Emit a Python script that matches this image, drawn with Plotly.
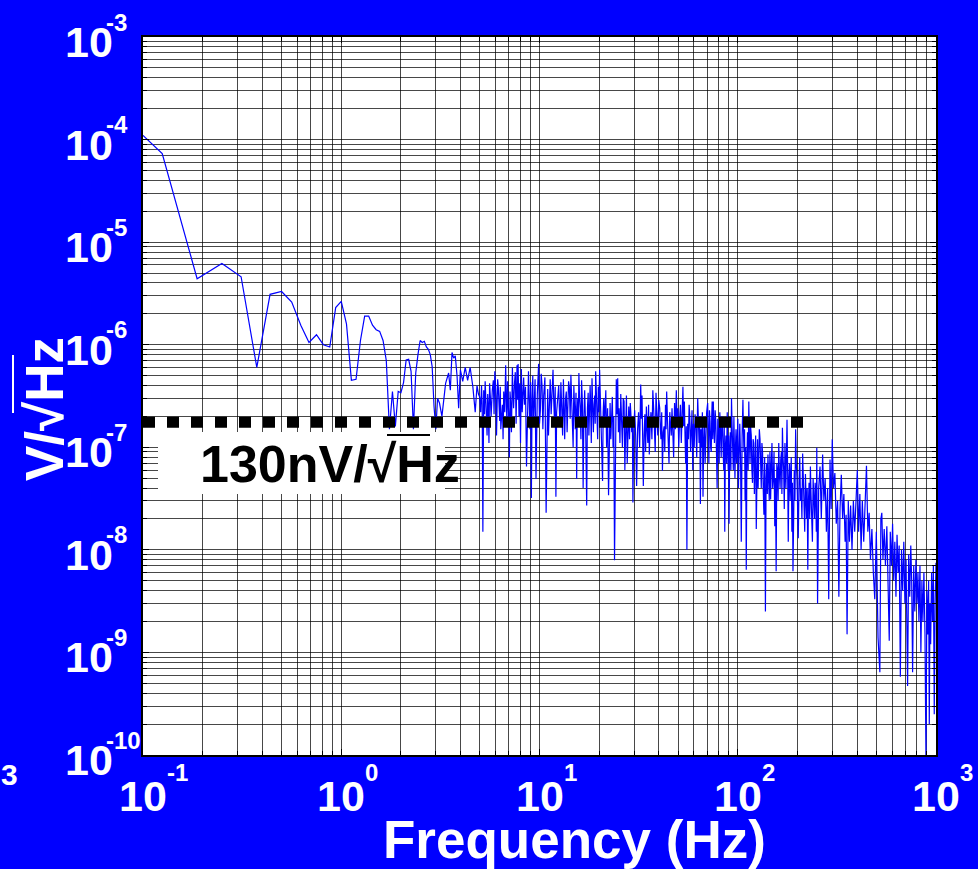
import math
import plotly.graph_objects as go

# ---------------- data ----------------
# (frequency Hz, amplitude V/sqrt(Hz))
seg_low = [(0.1, 1.1e-4), (0.125, 7.3e-5), (0.1875, 4.4e-6), (0.25, 6.2e-6), (0.3125, 4.6e-6),
           (0.375, 6.0e-7), (0.4375, 3.1e-6), (0.5, 3.3e-6), (0.5625, 2.6e-6), (0.625, 1.55e-6),
           (0.6875, 1.05e-6), (0.75, 1.25e-6), (0.8125, 1.0e-6), (0.875, 9.5e-7), (0.9375, 2.3e-6),
           (1.0, 2.65e-6), (1.0625, 1.6e-6), (1.125, 4.5e-7), (1.1875, 4.6e-7), (1.25, 1.1e-6),
           (1.3125, 1.9e-6), (1.375, 1.9e-6), (1.4375, 1.55e-6), (1.5, 1.4e-6), (1.5625, 1.35e-6),
           (1.625, 1.1e-6), (1.6875, 7.0e-7)]

seg_a = [(1.75, 1.5e-7), (1.8125, 3.5e-7), (1.875, 1.6e-7), (1.9375, 3.5e-7), (2.0, 3.4e-7),
         (2.0625, 4.3e-7), (2.125, 7.1e-7), (2.1875, 7.2e-7), (2.25, 5.5e-7), (2.3125, 1.5e-7),
         (2.375, 5.3e-7), (2.4375, 8.0e-7), (2.5, 1.1e-6), (2.5625, 1.05e-6), (2.625, 1.08e-6),
         (2.6875, 9.5e-7), (2.75, 9.0e-7), (2.8125, 8.0e-7), (2.875, 6.1e-7), (2.9375, 2.5e-7),
         (3.0, 1.5e-7), (3.06, 3.0e-7), (3.13, 2.7e-7), (3.22, 2.0e-7), (3.29, 3.2e-7),
         (3.36, 4.2e-7), (3.48, 5.3e-7), (3.55, 3.6e-7), (3.62, 8.4e-7), (3.69, 7.4e-7),
         (3.76, 7.8e-7), (3.84, 4.9e-7), (3.91, 2.4e-7), (3.99, 5.7e-7), (4.1, 4.4e-7),
         (4.22, 6.0e-7), (4.34, 4.5e-7), (4.47, 6.0e-7), (4.61, 3.9e-7), (4.74, 2.2e-7),
         (4.84, 4.0e-7), (4.92, 3.3e-7), (4.99, 3.1e-7)]

seg_b = [(5.05, 2.2e-7), (5.1, 4.0e-7), (5.14, 2.6e-7), (5.18, 1.5e-8), (5.23, 3.6e-7),
         (5.28, 2.1e-7), (5.32, 4.4e-7), (5.36, 3.0e-7), (5.4, 1.9e-7), (5.44, 1.3e-7),
         (5.48, 3.3e-7), (5.52, 2.5e-7), (5.56, 1.1e-7), (5.6, 4.2e-7), (5.65, 3.1e-7),
         (5.7, 2.0e-7), (5.78, 3.6e-7), (5.85, 4.5e-7), (5.9, 2.1e-7), (5.95, 5.5e-7),
         (6.0, 4.1e-7), (6.03, 3.2e-7), (6.07, 1.3e-7), (6.1, 2.5e-7), (6.15, 4.6e-7),
         (6.2, 3.8e-7), (6.25, 2.4e-7), (6.3, 1.8e-7), (6.34, 3.9e-7), (6.38, 1.5e-7),
         (6.44, 2.0e-7), (6.5, 2.6e-7), (6.55, 1.2e-7), (6.6, 3.5e-7), (6.68, 2.2e-7),
         (6.75, 6.3e-7), (6.8, 3.0e-7), (6.85, 1.6e-7), (6.9, 4.4e-7), (6.95, 3.0e-7),
         (7.0, 1.9e-7), (7.05, 8.0e-8), (7.1, 3.5e-7), (7.15, 2.8e-7), (7.22, 1.4e-7),
         (7.3, 6.0e-7), (7.35, 3.3e-7), (7.4, 2.4e-7), (7.48, 4.2e-7), (7.55, 5.4e-7),
         (7.62, 1.7e-7), (7.7, 6.3e-7), (7.75, 2.9e-7), (7.8, 6.5e-7), (7.88, 2.0e-7),
         (7.95, 4.2e-7), (8.02, 1.1e-7), (8.1, 5.8e-7), (8.18, 2.2e-7), (8.25, 3.5e-7),
         (8.32, 4.8e-7), (8.4, 2.6e-7), (8.5, 3.9e-7), (8.6, 6.5e-8), (8.7, 3.1e-7),
         (8.8, 5.5e-7), (8.88, 2.7e-7), (8.95, 1.5e-7), (9.02, 4.3e-7), (9.1, 3.2e-8),
         (9.17, 2.9e-7), (9.25, 5.0e-7), (9.32, 1.6e-7), (9.4, 2.5e-7), (9.5, 4.6e-7),
         (9.6, 4.9e-8), (9.75, 3.3e-7), (9.9, 6.5e-7), (10.0, 1.7e-7), (10.1, 2.3e-7),
         (10.2, 5.2e-7), (10.3, 4.0e-7), (10.4, 1.5e-7), (10.5, 3.2e-7), (10.65, 4.8e-7),
         (10.8, 2.3e-8), (10.9, 2.7e-7), (11.0, 3.7e-7), (11.1, 1.3e-7), (11.2, 3.0e-7),
         (11.32, 4.6e-7), (11.45, 2.1e-7), (11.58, 3.4e-7), (11.7, 5.7e-7), (11.8, 2.8e-7),
         (11.9, 1.8e-7), (12.0, 3.9e-7), (12.1, 3.3e-8), (12.2, 2.2e-7), (12.3, 3.0e-7)]

seg_c = [(12.5, 4.0e-7), (12.6, 2.3e-7), (12.7, 1.6e-7), (12.82, 4.3e-7), (12.95, 2.8e-7),
         (13.08, 1.3e-7), (13.2, 4.6e-7), (13.3, 2.5e-7), (13.4, 1.2e-7), (13.52, 2.9e-7),
         (13.65, 3.5e-7), (13.78, 1.4e-7), (13.9, 2.2e-7), (14.02, 4.4e-7), (14.15, 3.8e-7),
         (14.28, 1.9e-7), (14.4, 5.1e-7), (14.52, 3.0e-7), (14.65, 2.0e-7), (14.78, 1.0e-7),
         (14.9, 4.0e-7), (15.02, 2.6e-7), (15.15, 1.5e-7), (15.28, 3.4e-7), (15.4, 4.9e-8),
         (15.5, 2.2e-7), (15.6, 3.0e-7), (15.7, 1.6e-7), (15.8, 5.3e-7), (15.92, 3.1e-7),
         (16.05, 2.4e-7), (16.18, 1.2e-7), (16.3, 4.5e-7), (16.45, 2.8e-7), (16.6, 4.0e-8),
         (16.75, 2.0e-7), (16.9, 3.6e-7), (17.1, 1.5e-7), (17.3, 2.7e-8), (17.45, 2.4e-7),
         (17.6, 3.4e-7), (17.75, 1.3e-7), (17.9, 2.0e-7), (18.0, 4.0e-7), (18.1, 2.8e-7),
         (18.25, 1.1e-7), (18.4, 4.7e-7), (18.55, 3.0e-7), (18.7, 1.4e-7), (18.85, 2.6e-7),
         (19.0, 3.2e-7), (19.1, 1.7e-7), (19.2, 5.5e-7), (19.35, 3.5e-7), (19.5, 2.3e-7),
         (19.65, 1.2e-7), (19.8, 3.9e-7), (19.95, 2.2e-7), (20.1, 5.7e-7), (20.25, 3.3e-7),
         (20.4, 2.5e-7), (20.6, 1.3e-7), (20.8, 4.7e-8), (20.95, 2.2e-7), (21.1, 3.0e-7),
         (21.25, 1.6e-7), (21.4, 2.6e-7), (21.6, 3.6e-7), (21.8, 1.0e-7), (22.05, 2.4e-7),
         (22.3, 3.4e-8), (22.5, 1.8e-7), (22.7, 2.7e-7), (22.9, 1.2e-7), (23.1, 1.9e-7),
         (23.3, 3.1e-7), (23.5, 1.0e-7), (23.7, 2.0e-7), (23.9, 7.9e-9), (24.15, 2.3e-7),
         (24.4, 4.6e-7), (24.6, 2.1e-7), (24.8, 4.7e-7), (25.0, 1.4e-7), (25.2, 2.4e-7),
         (25.45, 1.1e-7), (25.7, 3.3e-7), (25.95, 1.8e-7), (26.2, 1.0e-7), (26.45, 3.0e-7),
         (26.7, 2.8e-7), (26.95, 6.0e-8), (27.2, 2.2e-7), (27.45, 3.2e-7), (27.7, 7.0e-8),
         (27.95, 1.5e-7), (28.2, 2.5e-7), (28.45, 1.2e-7), (28.7, 2.7e-7), (28.95, 2.0e-7),
         (29.2, 1.4e-7), (29.4, 1.9e-7), (29.6, 2.9e-8), (29.9, 1.6e-7), (30.2, 2.3e-7),
         (30.55, 1.3e-7), (30.9, 4.2e-8), (31.25, 1.5e-7), (31.6, 2.2e-7), (32.0, 1.0e-7),
         (32.4, 4.1e-7), (32.65, 1.9e-7), (32.9, 3.2e-7), (33.15, 1.2e-7), (33.4, 4.2e-8),
         (33.7, 1.3e-7), (34.0, 2.1e-7), (34.3, 9.0e-8), (34.6, 2.5e-7), (34.9, 1.5e-7),
         (35.2, 1.1e-7), (35.5, 2.6e-7), (35.8, 8.5e-8), (36.15, 1.6e-7), (36.5, 2.2e-7),
         (36.9, 1.2e-7), (37.3, 3.6e-7), (37.65, 2.4e-7), (38.0, 1.7e-7), (38.35, 9.0e-8),
         (38.7, 3.4e-7), (39.1, 2.0e-7), (39.5, 1.3e-7), (39.95, 2.9e-7), (40.4, 2.4e-7),
         (40.7, 1.5e-7), (41.0, 1.2e-7), (41.35, 2.2e-7), (41.7, 5.9e-8), (42.1, 1.4e-7),
         (42.5, 1.6e-7), (42.85, 9.0e-8), (43.2, 2.6e-7), (43.5, 1.5e-7), (43.8, 3.5e-7),
         (44.2, 1.9e-7), (44.6, 1.1e-7), (45.0, 7.0e-8), (45.4, 2.2e-7), (45.8, 1.4e-7),
         (46.2, 1.3e-7), (46.6, 2.4e-7), (47.0, 1.6e-7), (47.5, 8.0e-8), (48.0, 2.7e-7),
         (48.5, 1.5e-7), (49.0, 3.6e-7), (49.45, 1.7e-7), (49.9, 2.4e-7), (50.4, 1.0e-7),
         (50.9, 1.9e-7), (51.4, 2.6e-7), (51.9, 1.1e-7), (52.4, 2.1e-7), (52.9, 3.9e-7),
         (53.35, 1.6e-7), (53.8, 2.8e-7), (54.2, 1.3e-7), (54.6, 7.0e-8), (55.0, 1.6e-7),
         (55.4, 1.0e-8), (55.9, 1.7e-7), (56.4, 1.2e-7), (56.85, 2.6e-7), (57.3, 2.0e-7),
         (57.8, 9.0e-8), (58.3, 1.3e-7), (58.8, 2.3e-7), (59.3, 6.0e-8), (59.8, 1.7e-7),
         (60.3, 1.0e-7), (60.9, 2.1e-7), (61.5, 1.6e-7), (62.1, 8.0e-8), (62.8, 3.0e-7),
         (63.3, 1.6e-7), (63.8, 1.1e-7), (64.3, 2.0e-7), (64.8, 2.8e-8), (65.3, 1.5e-7),
         (65.8, 1.0e-7), (66.3, 2.2e-7), (66.8, 3.3e-8), (67.35, 1.2e-7), (67.9, 1.9e-7),
         (68.45, 7.0e-8), (69.0, 1.4e-7), (69.7, 2.2e-7)]

seg_d = [(70.5, 2.7e-7), (71.0, 1.3e-7), (71.5, 7.0e-8), (72.0, 2.3e-7), (72.5, 1.8e-7),
         (73.0, 1.0e-7), (73.5, 9.0e-8), (73.9, 2.0e-7), (74.3, 2.8e-7), (74.8, 1.2e-7),
         (75.3, 2.8e-7), (75.8, 1.6e-7), (76.3, 1.1e-7), (76.9, 2.3e-7), (77.5, 1.8e-7),
         (78.1, 9.0e-8), (78.7, 4.0e-8), (79.3, 1.9e-7), (80.0, 1.5e-7), (80.6, 7.0e-8),
         (81.2, 2.2e-7), (81.85, 1.4e-7), (82.5, 8.0e-8), (83.15, 2.0e-7), (83.8, 1.6e-7),
         (84.4, 9.0e-8), (85.0, 6.0e-8), (85.5, 1.6e-7), (86.0, 1.5e-8), (86.6, 1.0e-7),
         (87.2, 1.3e-7), (87.85, 7.0e-8), (88.5, 2.2e-7), (89.0, 1.1e-7), (89.5, 6.0e-8),
         (89.95, 1.3e-7), (90.4, 1.8e-8), (91.05, 9.0e-8), (91.7, 1.4e-7), (92.35, 6.0e-8),
         (93.0, 3.0e-7), (93.65, 1.6e-7), (94.3, 1.1e-7), (94.95, 6.0e-8), (95.6, 2.0e-7),
         (96.2, 1.2e-7), (96.8, 5.0e-8), (97.4, 1.0e-7), (98.0, 1.5e-7), (98.7, 7.0e-8),
         (99.4, 1.2e-7), (100.1, 1.9e-7), (100.8, 4.0e-8), (101.6, 1.1e-7), (102.4, 1.7e-7),
         (103.3, 8.0e-8), (104.2, 1.2e-8), (105.2, 1.3e-7), (106.2, 2.9e-7), (106.85, 1.4e-7),
         (107.5, 9.0e-8), (108.2, 1.5e-7), (108.9, 3.0e-8), (109.6, 1.0e-7), (110.4, 6.4e-9),
         (111.2, 8.0e-8), (112.0, 1.4e-7), (112.85, 6.0e-8), (113.7, 2.8e-7), (114.5, 1.2e-7),
         (115.3, 7.0e-8), (116.1, 1.6e-7), (117.0, 1.3e-7), (117.85, 6.0e-8), (118.7, 4.5e-8),
         (119.5, 1.2e-7), (120.4, 1.1e-7), (121.3, 3.5e-8), (122.2, 6.0e-8), (123.1, 1.3e-7),
         (124.0, 1.6e-8), (124.9, 8.0e-8), (125.8, 1.2e-7), (126.7, 4.0e-8), (127.6, 7.0e-8),
         (128.5, 1.5e-7), (129.5, 1.2e-7), (130.4, 5.0e-8), (131.4, 4.0e-8), (132.4, 1.1e-7),
         (133.4, 9.0e-8), (134.4, 4.0e-8), (135.5, 2.2e-8), (136.7, 8.0e-8), (137.9, 2.5e-9),
         (139.0, 5.0e-8), (140.0, 7.0e-8), (141.0, 3.5e-8), (142.0, 8.5e-8), (143.1, 5.0e-8),
         (144.2, 3.0e-8), (145.3, 9.0e-8), (146.5, 3.1e-8), (147.6, 6.5e-8), (148.8, 1.1e-7),
         (150.0, 4.0e-8), (151.2, 5.0e-8), (152.4, 9.0e-8), (153.7, 1.7e-8), (155.0, 5.0e-8),
         (156.2, 6.2e-9), (157.4, 7.0e-8), (158.6, 6.0e-8), (159.8, 3.0e-8), (161.0, 1.1e-7),
         (162.2, 5.5e-8), (163.5, 4.0e-8), (164.7, 7.5e-8), (166.0, 9.0e-8), (167.0, 3.5e-8),
         (168.0, 1.55e-7), (169.2, 8.0e-8), (170.5, 6.0e-8), (171.7, 2.5e-8), (173.0, 1.1e-7),
         (174.0, 6.5e-8), (175.0, 4.0e-8), (176.1, 9.0e-8), (177.2, 1.85e-7), (178.5, 6.0e-8),
         (179.8, 1.2e-8), (181.1, 5.0e-8), (182.5, 7.0e-8), (183.7, 3.0e-8), (185.0, 4.5e-8),
         (186.2, 8.0e-8), (187.5, 1.5e-8), (188.7, 4.5e-8), (189.9, 6.2e-9), (191.3, 3.5e-8),
         (192.8, 6.0e-8), (194.3, 3.0e-8), (195.9, 1.5e-7), (197.4, 7.0e-8), (199.0, 5.0e-8),
         (200.5, 2.5e-8), (202.0, 1.3e-8), (203.7, 4.5e-8), (205.5, 8.0e-8), (207.2, 3.0e-8),
         (209.0, 4.0e-8), (210.7, 2.0e-8), (212.5, 8.7e-8), (214.2, 5.0e-8), (216.0, 3.0e-8),
         (217.7, 1.5e-8), (219.5, 5.5e-8), (221.0, 3.5e-8), (222.5, 2.0e-8), (224.0, 4.0e-8),
         (225.6, 6.4e-9), (227.3, 3.0e-8), (229.0, 4.5e-8), (230.7, 2.0e-8), (232.5, 6.5e-8),
         (234.2, 3.5e-8), (236.0, 2.5e-8), (238.0, 1.2e-8), (240.0, 5.0e-8), (242.0, 3.0e-8),
         (244.0, 2.0e-8), (245.7, 4.5e-8), (247.5, 3.5e-8), (249.0, 1.5e-8), (250.4, 9.9e-8),
         (252.7, 3.0e-9), (254.3, 2.5e-8), (256.0, 4.0e-8)]

seg_e = [(260, 6.5e-8), (264, 2.0e-8), (268, 8.5e-8), (272, 3.0e-8), (276, 5.0e-8),
         (280, 1.5e-8), (284, 4.0e-8), (287.7, 3.3e-9), (292, 7.6e-8), (296, 2.5e-8),
         (299.7, 1.2e-7), (304, 4.0e-8), (309, 5.6e-8), (314, 1.8e-8), (319, 3.0e-8),
         (323.6, 3.5e-9), (328, 2.5e-8), (333, 5.4e-8), (338, 2.0e-8), (343, 3.5e-8),
         (348, 1.2e-8), (352, 2.2e-8), (356, 1.5e-9), (361, 3.0e-8), (366, 1.2e-8),
         (371, 2.7e-8), (377, 1.0e-8), (383, 3.0e-8), (389, 1.5e-8), (395, 4.0e-8),
         (401, 6.0e-8), (407, 1.5e-8), (413, 3.5e-8), (419, 1.0e-8), (425, 3.0e-8),
         (432, 1.2e-8), (439, 3.1e-8), (446, 6.6e-8), (453, 1.5e-8), (460, 2.3e-8),
         (467, 8.0e-9), (475, 1.6e-8), (483, 6.0e-9), (491, 3.3e-9), (500, 1.5e-8),
         (510, 1.4e-9), (521, 6.4e-10), (527, 2.0e-8), (533, 2.3e-8), (540, 8.0e-9),
         (548, 1.6e-8), (556, 7.0e-9), (565, 1.7e-8), (573, 6.0e-9), (581, 1.3e-9),
         (588, 1.5e-8), (596, 7.0e-9), (604, 1.8e-8), (612, 5.0e-9), (620, 1.2e-8),
         (628, 3.5e-9), (636, 1.4e-8), (644, 6.0e-9), (652, 1.1e-8), (661, 5.8e-10),
         (670, 1.0e-8), (679, 4.0e-9), (688, 1.2e-8), (697, 3.0e-9), (706, 8.0e-9),
         (719, 4.7e-10), (728, 9.0e-9), (737, 3.5e-9), (746, 1.1e-8), (754, 5.0e-9),
         (762, 6.4e-10), (772, 7.0e-9), (782, 2.5e-9), (792, 8.0e-9), (802, 3.0e-9),
         (811, 6.0e-9), (820, 2.0e-9), (830, 7.0e-9), (839, 1.0e-9), (849, 5.0e-9),
         (859, 2.0e-9), (869, 6.0e-9), (880, 1.5e-9), (890, 9.0e-11), (900, 4.0e-9),
         (910, 1.5e-9), (918, 5.0e-9), (925, 2.0e-10), (932, 3.0e-9), (940, 1.2e-9),
         (950, 6.0e-9), (960, 2.0e-9), (970, 7.0e-9), (980, 2.5e-10), (990, 3.0e-9),
         (1000, 7.5e-9)]

# reference level line (dotted)
level_freq = [0.1, 220]
level_value = [1.75e-7, 1.75e-7]
level_label = "130nV/√Hz"

# tick labels: mantissa "10" plus exponent
x_ticks = [0.1, 1, 10, 100, 1000]
x_exponents = ["-1", "0", "1", "2", "3"]
y_ticks = [1e-10, 1e-9, 1e-8, 1e-7, 1e-6, 1e-5, 1e-4, 1e-3]
y_exponents = ["-10", "-9", "-8", "-7", "-6", "-5", "-4", "-3"]

# ---------------- figure ----------------
segments = [seg_low, seg_a, seg_b, seg_c, seg_d, seg_e]
freq = [p[0] for s in segments for p in s]
amp = [p[1] for s in segments for p in s]

x_minor = [m * 10.0 ** e for e in range(-1, 3) for m in range(2, 10)]
y_minor = [m * 10.0 ** e for e in range(-10, -3) for m in range(2, 10)]

FONT = "Liberation Sans, Arial, sans-serif"
fig = go.Figure()
fig.add_trace(go.Scatter(x=freq, y=amp, mode="lines",
                         line=dict(color="#0000FF", width=1.2), hoverinfo="skip"))
fig.add_trace(go.Scatter(x=level_freq, y=level_value, mode="lines",
                         line=dict(color="black", width=11, dash="12px,12px"), hoverinfo="skip"))

grid_col = "rgba(0,0,0,0.72)"
axis_common = dict(
    type="log", showgrid=True, gridcolor=grid_col, gridwidth=1,
    showline=True, linecolor="black", linewidth=2, mirror="allticks",
    ticks="inside", ticklen=6, tickcolor="black", tickwidth=1,
    showticklabels=False, zeroline=False,
)
fig.update_xaxes(range=[-1, 3], tickmode="array", tickvals=x_ticks,
                 minor=dict(tickmode="array", tickvals=x_minor, showgrid=True, gridcolor=grid_col,
                            gridwidth=1, ticks="inside", ticklen=4, tickcolor="black"),
                 **axis_common)
fig.update_yaxes(range=[-10, -3], tickmode="array", tickvals=y_ticks,
                 minor=dict(tickmode="array", tickvals=y_minor, showgrid=True, gridcolor=grid_col,
                            gridwidth=1, ticks="inside", ticklen=4, tickcolor="black"),
                 **axis_common)

# plot area in pixels: left 143, right 936, top 37, bottom 755
L, R, T, B = 143, 936, 37, 755
W, H = R - L, B - T
def px(x):
    return (x - L) / W
def py(y):
    return (B - y) / H

big = dict(family=FONT, size=43, color="white", weight="bold")
small = dict(family=FONT, size=24, color="white", weight="bold")

# x tick labels
for v, e in zip(x_ticks, x_exponents):
    fig.add_annotation(text="10", xref="x", yref="paper", x=math.log10(v), y=py(796),
                       showarrow=False, font=big, xanchor="center", yanchor="middle")
    fig.add_annotation(text=e, xref="x", yref="paper", x=math.log10(v), y=py(772.5), xshift=22,
                       showarrow=False, font=small, xanchor="left", yanchor="middle")
# y tick labels
for v, e in zip(y_ticks, y_exponents):
    fig.add_annotation(text="10", xref="paper", yref="y", x=px(88.5), y=math.log10(v), yshift=-5,
                       showarrow=False, font=big, xanchor="center", yanchor="middle")
    fig.add_annotation(text=e, xref="paper", yref="y", x=px(104), y=math.log10(v), yshift=15,
                       showarrow=False, font=small, xanchor="left", yanchor="middle")

# white box behind the level label
fig.add_shape(type="rect", xref="paper", yref="paper", x0=px(158), x1=px(445), y0=py(494), y1=py(432),
              fillcolor="white", line=dict(width=0), layer="above")
fig.add_annotation(text="<b>" + level_label + "</b>", xref="paper", yref="paper", x=px(330), y=py(464),
                   showarrow=False, font=dict(family=FONT, size=52, color="black"),
                   xanchor="center", yanchor="middle")
# overline of the sqrt in the label
fig.add_shape(type="line", xref="paper", yref="paper", x0=px(387), x1=px(430), y0=py(435), y1=py(435),
              line=dict(color="black", width=2), layer="above")

# axis titles
fig.add_annotation(text="<b>Frequency (Hz)</b>", xref="paper", yref="paper", x=px(574), y=py(839),
                   showarrow=False, font=dict(family=FONT, size=53, color="white"),
                   xanchor="center", yanchor="middle")
fig.add_annotation(text="<b>V/√Hz</b>", xref="paper", yref="paper", x=px(44.5), y=py(409.5),
                   showarrow=False, textangle=-90, font=dict(family=FONT, size=53, color="white"),
                   xanchor="center", yanchor="middle")
fig.add_shape(type="line", xref="paper", yref="paper", x0=px(13), x1=px(13), y0=py(413), y1=py(355),
              line=dict(color="white", width=2), layer="above")
# stray clipped label at lower left
fig.add_annotation(text="3", xref="paper", yref="paper", x=px(9.5), y=py(774),
                   showarrow=False, font=dict(family=FONT, size=30, color="white", weight="bold"),
                   xanchor="center", yanchor="middle")

fig.update_layout(width=978, height=869, margin=dict(l=L, r=978 - R, t=T, b=869 - B, pad=0),
                  paper_bgcolor="#0000FF", plot_bgcolor="white", showlegend=False,
                  font=dict(family=FONT))

fig.write_html("out.html", config={"displayModeBar": False},
               post_script="document.body.style.margin='0px';")
